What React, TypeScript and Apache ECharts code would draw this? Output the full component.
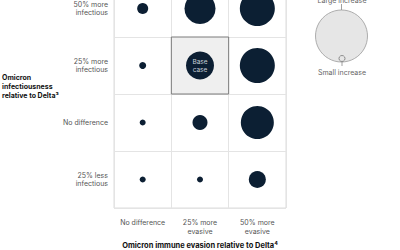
import React, { useEffect, useRef } from "react";
import * as echarts from "echarts";

const xCategories = ["No difference", "25% more\nevasive", "50% more\nevasive"];
const yCategories = ["25% less\ninfectious", "No difference", "25% more\ninfectious", "50% more\ninfectious"];
// circle diameters, rows from bottom (25% less) to top (50% more), columns left to right
const row25Less = [6, 6, 17];
const rowNoDiff = [6, 15, 33];
const row25More = [7, 28, 35];
const row50More = [11, 31, 35];
const baseCase = [1, 2];
const baseCaseLabel = "Base\ncase";
const xTitle = "Omicron immune evasion relative to Delta⁴";
const yTitle = "Omicron\ninfectiousness\nrelative to Delta³";
const legendLarge = "Large increase";
const legendSmall = "Small increase";

const FONT = "Inter, 'Liberation Sans', sans-serif";
const OFF = 20; // chart canvas extends 20px above the visible page

export default function App() {
  const ref = useRef<HTMLDivElement>(null);
  useEffect(() => {
    if (!ref.current) return;
    const chart = echarts.init(ref.current, null, { renderer: "svg" });
    const rows = [row25Less, rowNoDiff, row25More, row50More];
    const data: any[] = [];
    rows.forEach((r, yi) =>
      r.forEach((s, xi) => {
        const isBase = xi === baseCase[0] && yi === baseCase[1];
        data.push({
          value: [xi, yi, s],
          label: isBase
            ? {
                show: true,
                formatter: baseCaseLabel,
                color: "#c9d1d8",
                fontSize: 6.5,
                lineHeight: 8,
                fontFamily: FONT,
              }
            : { show: false },
        });
      })
    );
    chart.setOption({
      animation: false,
      textStyle: { fontFamily: FONT },
      grid: {
        left: 114,
        right: 114,
        top: 0,
        bottom: 42,
        containLabel: false,
        outerBoundsMode: "none",
        show: true,
        borderColor: "#dcdcdc",
        borderWidth: 1,
        backgroundColor: "transparent",
      },
      xAxis: {
        type: "category",
        data: xCategories,
        boundaryGap: true,
        axisLine: { show: false },
        axisTick: { show: false },
        splitLine: { show: true, interval: 0, lineStyle: { color: "#e4e4e4", width: 1 } },
        axisLabel: {
          interval: 0,
          color: "#555",
          fontSize: 7,
          lineHeight: 9,
          margin: 10,
          fontFamily: FONT,
        },
        name: xTitle,
        nameLocation: "middle",
        nameGap: 33,
        nameTextStyle: { color: "#111", fontSize: 7.5, fontWeight: "bold", fontFamily: FONT },
      },
      yAxis: {
        type: "category",
        data: yCategories,
        boundaryGap: true,
        axisLine: { show: false },
        axisTick: { show: false },
        splitLine: { show: true, interval: 0, lineStyle: { color: "#e4e4e4", width: 1 } },
        axisLabel: {
          interval: 0,
          color: "#555",
          fontSize: 7,
          lineHeight: 8.5,
          margin: 6,
          align: "right",
          fontFamily: FONT,
        },
      },
      series: [
        {
          type: "custom",
          z: 1,
          silent: true,
          data: [baseCase],
          renderItem: (params: any, api: any) => {
            const c = api.coord([api.value(0), api.value(1)]);
            const s = api.size([1, 1]);
            return {
              type: "rect",
              shape: { x: c[0] - s[0] / 2, y: c[1] - s[1] / 2, width: s[0], height: s[1] },
              style: { fill: "#efefef", stroke: "#7a7a7a", lineWidth: 1 },
            };
          },
        },
        {
          type: "scatter",
          z: 3,
          data,
          symbol: "circle",
          symbolSize: (v: number[]) => v[2],
          itemStyle: { color: "#0c1f33", opacity: 1 },
          label: { position: "inside" },
        },
      ],
      graphic: [
        {
          type: "text",
          left: 2,
          top: 73 + OFF,
          style: {
            text: yTitle,
            fill: "#111",
            font: `bold 7px ${FONT}`,
            lineHeight: 9,
          },
        },
        {
          type: "circle",
          shape: { cx: 341.5, cy: 36 + OFF, r: 26 },
          style: { fill: "#e6e6e6", stroke: "#9a9a9a", lineWidth: 0.8 },
        },
        {
          type: "circle",
          shape: { cx: 342, cy: 58.5 + OFF, r: 3 },
          style: { fill: "#e6e6e6", stroke: "#777", lineWidth: 0.8 },
        },
        {
          type: "line",
          shape: { x1: 341.5, y1: 10 + OFF, x2: 341.5, y2: 4 + OFF },
          style: { stroke: "#888", lineWidth: 0.8 },
        },
        {
          type: "line",
          shape: { x1: 342, y1: 61.5 + OFF, x2: 342, y2: 66 + OFF },
          style: { stroke: "#888", lineWidth: 0.8 },
        },
        {
          type: "text",
          x: 342,
          y: 0 + OFF,
          style: {
            text: legendLarge,
            fill: "#666",
            font: `7px ${FONT}`,
            align: "center",
            verticalAlign: "middle",
          },
        },
        {
          type: "text",
          x: 342,
          y: 72 + OFF,
          style: {
            text: legendSmall,
            fill: "#666",
            font: `7px ${FONT}`,
            align: "center",
            verticalAlign: "middle",
          },
        },
      ],
    });
    return () => chart.dispose();
  }, []);
  return (
    <div
      ref={ref}
      style={{ position: "absolute", left: 0, top: -OFF, width: 400, height: 250 + OFF }}
    />
  );
}
